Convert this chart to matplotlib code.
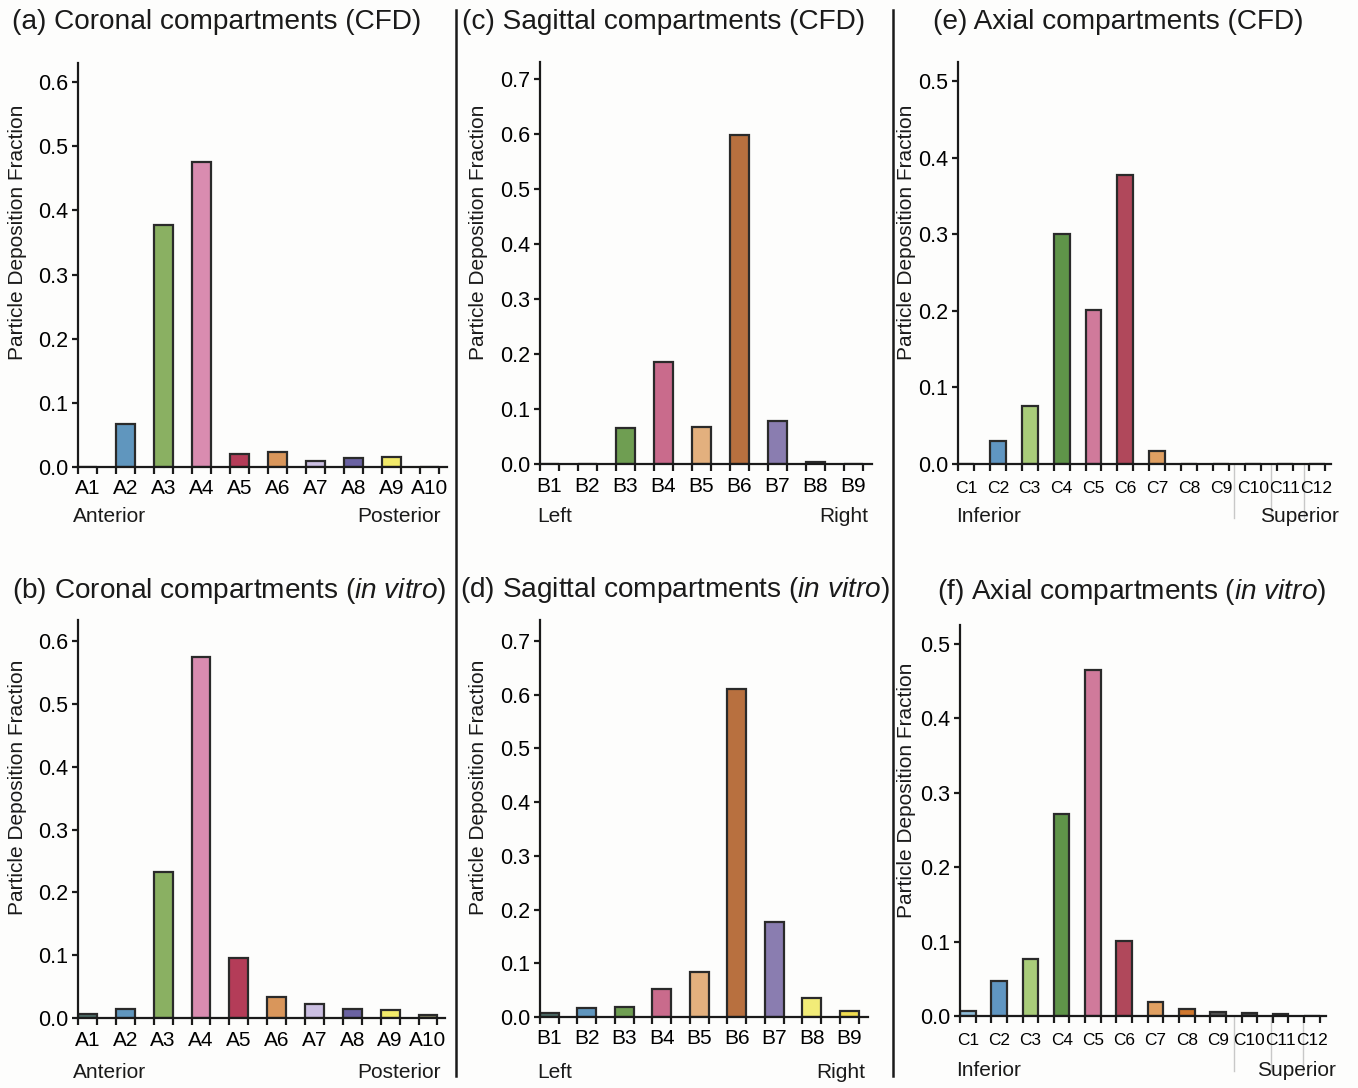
import matplotlib
matplotlib.use("Agg")
import matplotlib.pyplot as plt
import matplotlib.transforms as mtransforms
from matplotlib.lines import Line2D

plt.rcParams['font.family'] = ['Liberation Sans', 'DejaVu Sans']
plt.rcParams['mathtext.fontset'] = 'custom'
plt.rcParams['mathtext.rm'] = 'Liberation Sans'
plt.rcParams['mathtext.it'] = 'Liberation Sans:italic'

# ---- data -------------------------------------------------------------
coronal_labels = ["A1", "A2", "A3", "A4", "A5", "A6", "A7", "A8", "A9", "A10"]
coronal_cfd = [0.0, 0.067, 0.378, 0.476, 0.020, 0.023, 0.009, 0.014, 0.016, 0.0]
coronal_vitro = [0.006, 0.014, 0.232, 0.575, 0.096, 0.033, 0.022, 0.014, 0.013, 0.004]

sagittal_labels = ["B1", "B2", "B3", "B4", "B5", "B6", "B7", "B8", "B9"]
sagittal_cfd = [0.0, 0.0, 0.065, 0.186, 0.067, 0.597, 0.078, 0.004, 0.0]
sagittal_vitro = [0.007, 0.016, 0.019, 0.052, 0.083, 0.611, 0.176, 0.035, 0.011]

axial_labels = ["C1", "C2", "C3", "C4", "C5", "C6", "C7", "C8", "C9", "C10", "C11", "C12"]
axial_cfd = [0.0, 0.030, 0.076, 0.301, 0.201, 0.377, 0.017, 0.0, 0.0, 0.0, 0.0, 0.0]
axial_vitro = [0.007, 0.047, 0.076, 0.271, 0.464, 0.101, 0.019, 0.010, 0.005, 0.004, 0.003, 0.0]

coronal_colors = ["#4f6f6a", "#6096be", "#8ab062", "#d98cb0", "#b43c58", "#d9965b",
                  "#cbbfe2", "#6a62a2", "#f2ea6a", "#8c8c6a"]
sagittal_colors = ["#4f6f6a", "#6096be", "#6f9e52", "#c96b8c", "#e3b07e", "#b8703f",
                   "#8a7db0", "#f2ec78", "#f0dc50"]
axial_colors = ["#8fbcd8", "#6096c2", "#a9cc7a", "#5f9449", "#d07a9b", "#b0485b",
                "#e0a062", "#d0782f", "#555555", "#444444", "#444444", "#444444"]

W, H = 1358, 1088
fig = plt.figure(figsize=(W / 100, H / 100), dpi=100)
fig.patch.set_facecolor("#fdfdfc")


def box(left, top, right, bottom):
    return [left / W, 1 - bottom / H, (right - left) / W, (bottom - top) / H]


def fpos(x, y):
    return x / W, 1 - y / H


def panel(rect, labels, values, colors, ymax, yticks, xmax, xlabelsize=15, xpad=9):
    ax = fig.add_axes(rect)
    ax.set_facecolor("none")
    x = list(range(len(labels)))
    ax.bar(x, values, width=0.5, color=colors, edgecolor="#2a2a2a", linewidth=1.6, zorder=3)
    ax.set_xlim(-0.25, xmax)
    ax.set_ylim(0, ymax)
    ax.spines["top"].set_visible(False)
    ax.spines["right"].set_visible(False)
    for s in ("left", "bottom"):
        ax.spines[s].set_linewidth(1.6)
        ax.spines[s].set_color("#1a1a1a")
        ax.spines[s].set_zorder(4)
    ax.set_yticks(yticks)
    ax.set_yticklabels([f"{v:.1f}" for v in yticks])
    ax.set_xticks(x)
    ax.set_xticklabels(labels)
    ax.tick_params(axis="x", which="major", length=0, pad=xpad, labelsize=xlabelsize)
    edges = [i - 0.25 for i in x] + [i + 0.25 for i in x]
    ax.set_xticks(edges, minor=True)
    ax.tick_params(axis="x", which="minor", length=5, width=1.6, direction="out", color="#1a1a1a")
    ax.tick_params(axis="y", length=4, width=1.6, direction="out", pad=3, labelsize=15.5,
                   color="#1a1a1a")
    return ax


def faint_lines(ax, xs, depth_px, height_px):
    trans = mtransforms.blended_transform_factory(ax.transData, ax.transAxes)
    for xv in xs:
        ax.add_line(Line2D([xv, xv], [0, -depth_px / height_px], transform=trans,
                           color="#c8c8c8", lw=1.0, clip_on=False, zorder=1))


# top row
ax_a = panel(box(78, 63, 447, 467), coronal_labels, coronal_cfd, coronal_colors,
             0.63, [0.0, 0.1, 0.2, 0.3, 0.4, 0.5, 0.6], 9.45)
ax_c = panel(box(540, 62, 872, 464), sagittal_labels, sagittal_cfd, sagittal_colors,
             0.73, [0.0, 0.1, 0.2, 0.3, 0.4, 0.5, 0.6, 0.7], 8.5)
ax_e = panel(box(958, 62, 1331, 464), axial_labels, axial_cfd, axial_colors,
             0.525, [0.0, 0.1, 0.2, 0.3, 0.4, 0.5], 11.45, xlabelsize=12.6, xpad=12)

# bottom row
ax_b = panel(box(78, 620, 445, 1018), coronal_labels, coronal_vitro, coronal_colors,
             0.634, [0.0, 0.1, 0.2, 0.3, 0.4, 0.5, 0.6], 9.45)
ax_d = panel(box(540, 620, 868, 1017), sagittal_labels, sagittal_vitro, sagittal_colors,
             0.739, [0.0, 0.1, 0.2, 0.3, 0.4, 0.5, 0.6, 0.7], 8.5)
ax_f = panel(box(960, 625, 1326, 1016), axial_labels, axial_vitro, axial_colors,
             0.525, [0.0, 0.1, 0.2, 0.3, 0.4, 0.5], 11.45, xlabelsize=12.4, xpad=12)

faint_lines(ax_e, [8.4, 9.58, 10.6], 54, 402)
faint_lines(ax_f, [8.5, 9.68, 10.7], 55, 391)

# titles
titles = [
    ((12, 22), "(a) Coronal compartments (CFD)"),
    ((462, 22), "(c) Sagittal compartments (CFD)"),
    ((933, 22), "(e) Axial compartments (CFD)"),
    ((12, 591), r"(b) Coronal compartments ($\mathit{in\ vitro}$)"),
    ((460, 590), r"(d) Sagittal compartments ($\mathit{in\ vitro}$)"),
    ((937, 592), r"(f) Axial compartments ($\mathit{in\ vitro}$)"),
]
for (px, py), t in titles:
    fig.text(*fpos(px, py), t, fontsize=20.2, ha="left", va="center", color="#1a1a1a")

# y-axis labels
for px, py in [(18, 232), (478, 232), (907, 232), (18, 787), (478, 787), (907, 790)]:
    fig.text(*fpos(px, py), "Particle Deposition Fraction", rotation=90, fontsize=15,
             ha="center", va="center", color="#1a1a1a")

# direction annotations under the category axes
directions = [
    ((73, 516), "Anterior", "left"), ((441, 516), "Posterior", "right"),
    ((537, 516), "Left", "left"), ((868, 516), "Right", "right"),
    ((956, 516), "Inferior", "left"), ((1339, 516), "Superior", "right"),
    ((73, 1072), "Anterior", "left"), ((441, 1072), "Posterior", "right"),
    ((537, 1072), "Left", "left"), ((865, 1072), "Right", "right"),
    ((956, 1070), "Inferior", "left"), ((1336, 1070), "Superior", "right"),
]
for (px, py), t, ha in directions:
    fig.text(*fpos(px, py), t, fontsize=15, ha=ha, va="center", color="#1a1a1a")

# column separators
for xs in (456, 893):
    fig.add_artist(Line2D([xs / W, xs / W], [1 - 10 / H, 1 - 1076 / H],
                          transform=fig.transFigure, color="#1a1a1a", lw=1.8))

fig.savefig("out.png", dpi=100, facecolor=fig.get_facecolor())
